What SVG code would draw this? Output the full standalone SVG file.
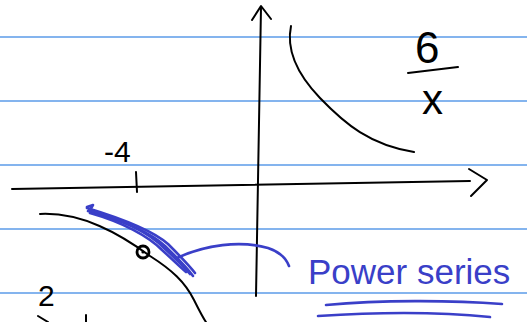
<svg xmlns="http://www.w3.org/2000/svg" width="527" height="322" viewBox="0 0 527 322">
<style>
.rule{stroke:#5b9be8;stroke-width:1.6}
.ink{fill:none;stroke:#000;stroke-width:2;stroke-linecap:round;stroke-linejoin:round}
.blue{fill:none;stroke:#3a3fc8;stroke-width:2.6;stroke-linecap:round;stroke-linejoin:round}
.hand{font-family:"Liberation Sans",sans-serif;fill:#000}
.bt{font-family:"Liberation Sans",sans-serif;fill:#3a3fc8}
</style>
<rect width="527" height="322" fill="#fff"/>
<g id="paper">
<line class="rule" x1="0" y1="37" x2="527" y2="37"/>
<line class="rule" x1="0" y1="101" x2="527" y2="101"/>
<line class="rule" x1="0" y1="165" x2="527" y2="165"/>
<line class="rule" x1="0" y1="229" x2="527" y2="229"/>
<line class="rule" x1="0" y1="293" x2="527" y2="293"/>
</g>
<g id="axes">
<path class="ink" d="M12,189 L470,181"/>
<path class="ink" d="M469,169 L487,180 L471,196"/>
<path class="ink" d="M256,296 L261,7"/>
<path class="ink" d="M252,20 L261,6 L271,19"/>
<path class="ink" d="M136,172 L137,192"/>
</g>
<g id="curve-q1">
<path class="ink" d="M291,26 C286,50 298,75 320,98 C345,124 370,145 414,152"/>
</g>
<g id="curve-q3">
<path class="ink" d="M40,214 C82,212 120,234 150,256 C172,270 185,282 194,300 C199,310 203,318 206,322"/>
<circle cx="143" cy="252" r="6" fill="none" stroke="#000" stroke-width="2.8"/>
<circle cx="143" cy="252" r="1.6" fill="#000"/>
</g>
<g id="highlight">
<path class="blue" d="M88,211 C120,220 150,232 165,246 C175,256 185,265 193,276"/>
<path class="blue" d="M87,208 C120,218 152,230 168,244 C178,254 188,264 195,273"/>
<path class="blue" d="M90,213 C122,222 148,236 162,250 C172,259 180,267 186,272"/>
<path class="blue" d="M89,210 C121,219 150,233 164,248 C174,257 183,266 190,274"/>
<path class="blue" d="M87,207 L93,205 L90,210"/>
</g>
<g id="connectors">
<path class="blue" d="M177,258 C205,245 240,240 268,248 C280,252 286,258 289,266"/>
</g>
<g id="labels">
<text class="hand" x="104" y="162" font-size="30">-4</text>
<text class="hand" x="415" y="63" font-size="44">6</text>
<path class="ink" d="M408,73 L458,67"/>
<text class="hand" x="422" y="114" font-size="42">x</text>
<text class="bt" x="308" y="284" font-size="35">Power series</text>
<path class="blue" d="M326,305 C380,300 450,300 502,304" stroke-width="2.6"/>
<path class="blue" d="M318,316 C380,312 440,312 490,317" stroke-width="2.6"/>
<text class="hand" x="38" y="306" font-size="30">2</text>
<path class="ink" d="M38,316 L48,322"/>
<path class="ink" d="M86,315 L86,322"/>
</g>
</svg>
